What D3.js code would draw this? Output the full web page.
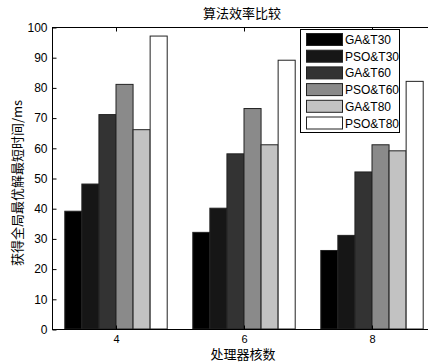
<!DOCTYPE html>
<html>
<head>
<meta charset="utf-8">
<script src="https://cdn.jsdelivr.net/npm/d3@7"></script>
<style>
  body { margin: 0; background: #fff; }
  text { font-family: "Liberation Sans", Arial, sans-serif; fill: #000; }
  .cjk { font-family: "Noto Sans CJK SC", sans-serif; }
</style>
</head>
<body>
<div id="chart"></div>
<script>
// data
const cores = ['4', '6', '8'];
const seriesNames = ['GA&T30', 'PSO&T30', 'GA&T60', 'PSO&T60', 'GA&T80', 'PSO&T80'];
const gaT30 = [39, 32, 26];
const psoT30 = [48, 40, 31];
const gaT60 = [71, 58, 52];
const psoT60 = [81, 73, 61];
const gaT80 = [66, 61, 59];
const psoT80 = [97, 89, 82];
const yTicks = [0, 10, 20, 30, 40, 50, 60, 70, 80, 90, 100];

const seriesValues = [gaT30, psoT30, gaT60, psoT60, gaT80, psoT80];
const seriesColors = ['#000000', '#161616', '#333333', '#8a8a8a', '#c2c2c2', '#ffffff'];

const width = 428, height = 364;
const plotLeft = 52, plotTop = 27, plotRight = 436, plotBottom = 329;

const svg = d3.select('#chart')
  .append('svg')
  .attr('width', width)
  .attr('height', height);

// scales
const x0 = d3.scaleBand()
  .domain(cores)
  .range([plotLeft, plotRight])
  .paddingInner(0.2)
  .paddingOuter(0.1);

const x1 = d3.scaleBand()
  .domain(seriesNames)
  .range([0, x0.bandwidth()]);

const y = d3.scaleLinear()
  .domain([0, 100])
  .range([plotBottom, plotTop]);

// bars
const group = svg.selectAll('g.group')
  .data(cores)
  .enter()
  .append('g')
  .attr('class', 'group')
  .attr('transform', d => `translate(${x0(d)},0)`);

group.selectAll('rect')
  .data((d, i) => seriesNames.map((name, s) => ({ name, s, value: seriesValues[s][i] })))
  .enter()
  .append('rect')
  .attr('x', d => x1(d.name))
  .attr('y', d => y(d.value))
  .attr('width', x1.bandwidth())
  .attr('height', d => plotBottom - y(d.value))
  .attr('fill', d => seriesColors[d.s])
  .attr('stroke', '#222')
  .attr('stroke-width', 1);

// axes box
svg.append('rect')
  .attr('x', plotLeft + 0.5)
  .attr('y', plotTop + 0.5)
  .attr('width', plotRight - plotLeft)
  .attr('height', plotBottom - plotTop)
  .attr('fill', 'none')
  .attr('stroke', '#000')
  .attr('stroke-width', 1);

// y axis
const yAxis = d3.axisLeft(y)
  .tickValues(yTicks)
  .tickSize(-4)
  .tickPadding(5);

svg.append('g')
  .attr('transform', `translate(${plotLeft + 0.5},0.5)`)
  .call(yAxis)
  .call(g => g.select('.domain').remove())
  .call(g => g.selectAll('text').style('font-size', '12px').attr('fill', '#222'));

// x axis
const xAxis = d3.axisBottom(x0)
  .tickSize(-4)
  .tickPadding(6);

svg.append('g')
  .attr('transform', `translate(0.5,${plotBottom + 0.5})`)
  .call(xAxis)
  .call(g => g.select('.domain').remove())
  .call(g => g.selectAll('text').style('font-size', '11px').attr('fill', '#222'));

// top ticks
svg.append('g')
  .attr('transform', `translate(0.5,${plotTop + 0.5})`)
  .call(d3.axisTop(x0).tickSize(-4).tickFormat(''))
  .call(g => g.select('.domain').remove());

// title and labels
svg.append('text')
  .attr('class', 'cjk')
  .attr('x', 242)
  .attr('y', 18)
  .attr('text-anchor', 'middle')
  .style('font-size', '13px')
  .text('算法效率比较');

svg.append('text')
  .attr('class', 'cjk')
  .attr('x', 243)
  .attr('y', 359)
  .attr('text-anchor', 'middle')
  .style('font-size', '13px')
  .text('处理器核数');

svg.append('text')
  .attr('class', 'cjk')
  .attr('transform', 'translate(22,183) rotate(-90)')
  .attr('text-anchor', 'middle')
  .style('font-size', '13px')
  .attr('fill', '#222')
  .text('获得全局最优解最短时间/ms');

// legend
const legend = svg.append('g')
  .attr('transform', 'translate(300,29)');

legend.append('rect')
  .attr('x', 0.5)
  .attr('y', 0.5)
  .attr('width', 99)
  .attr('height', 103)
  .attr('fill', '#fff')
  .attr('stroke', '#000');

seriesNames.forEach((name, i) => {
  const item = legend.append('g')
    .attr('transform', `translate(0, ${4 + i * 16.7})`);

  item.append('rect')
    .attr('x', 6.5)
    .attr('y', 0.5)
    .attr('width', 36)
    .attr('height', 12)
    .attr('fill', seriesColors[i])
    .attr('stroke', '#222');

  item.append('text')
    .attr('x', 45)
    .attr('y', 11)
    .style('font-size', '12px')
    .attr('fill', '#222')
    .text(name);
});
</script>
</body>
</html>
